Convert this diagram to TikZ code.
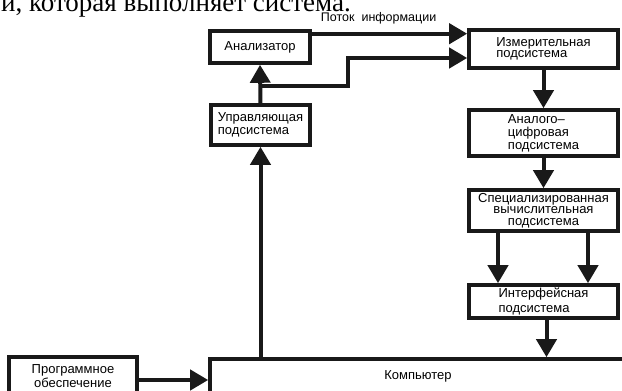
\documentclass[tikz,border=0pt]{standalone}
\usepackage{fontspec}
\setmainfont{Liberation Sans}
\newfontfamily\bodyserif{Liberation Serif}
\usetikzlibrary{arrows.meta,calc}
\definecolor{ink}{gray}{0.1}

\begin{document}
\begin{tikzpicture}[x=1pt,y=-1pt,
  box/.style={draw=ink, line width=3.6pt, fill=white, rectangle, inner sep=0pt,
    font=\fontsize{13}{12}\selectfont},
  lead/.style={font=\fontsize{13}{#1}\selectfont},
  flow/.style={draw=ink, line width=4pt, -{Triangle[width=20pt,length=18pt]}},
  caption/.style={font=\fontsize{12.5}{12}\selectfont, inner sep=0pt}
]
\useasboundingbox (0,0) rectangle (622,391);
\clip (0,0) rectangle (622,391);
\fill[white] (0,0) rectangle (622,391);

% running text of the page above the figure
\node[font=\bodyserif\fontsize{27}{27}\selectfont, anchor=base west, inner sep=0pt]
  (headline) at (1,11.5) {и, которая выполняет система.};

% blocks
\node[box, minimum width=100pt, minimum height=32pt] (anal) at (260,47) {Анализатор};
\node[box, lead=13, align=left, minimum width=99pt, minimum height=40pt] (ctrl) at (260.5,125)
  {Управляющая\\подсистема};
\node[box, lead=11.5, align=left, minimum width=149pt, minimum height=38pt] (meas) at (543.5,49)
  {Измерительная\\подсистема};
\node[box, lead=13, align=left, minimum width=149pt, minimum height=46pt] (adc) at (543.5,133)
  {Аналого–\\цифровая\\подсистема};
\node[box, lead=11.5, align=center, minimum width=149pt, minimum height=41pt] (spec) at (543.5,210.5)
  {Специализированная\\вычислительная\\подсистема};
\node[box, lead=15, align=left, minimum width=149pt, minimum height=33pt] (intf) at (543.5,301.5)
  {Интерфейсная\\подсистема};
\node[box, minimum width=416pt, minimum height=34pt] (comp) at (418,376) {Компьютер};
\node[box, lead=12, align=center, minimum width=128pt, minimum height=38pt] (prog) at (73,376)
  {Программное\\обеспечение};

% connectors
\coordinate (flowtop) at ($(anal.north east)+(0,4.5)$);
\draw[flow] (flowtop) -- (flowtop -| meas.west)
  node[caption, pos=0.43, anchor=base, yshift=12pt] (flowlbl) {Поток\ \ информации};

\coordinate (split) at ($(ctrl.north)+(0,-17)$);
\draw[flow] (ctrl.north) -- (anal.south);
\draw[flow] (split) -- ++(87,0) |- ($(meas.west)+(0,9)$);
\draw[flow] (ctrl.south |- comp.north) -- (ctrl.south);

\draw[flow] (meas.south) -- (adc.north);
\draw[flow] (adc.south) -- (spec.north);
\draw[flow] ($(spec.south)+(-45.5,0)$) -- ($(intf.north)+(-45.5,0)$);
\draw[flow] ($(spec.south)+(44.5,0)$) -- ($(intf.north)+(44.5,0)$);
\coordinate (intfout) at ($(intf.south)+(3,0)$);
\draw[flow] (intfout) -- (intfout |- comp.north);

\coordinate (progout) at ($(prog.east)+(0,4)$);
\draw[flow] (progout) -- (progout -| comp.west);
\end{tikzpicture}
\end{document}
